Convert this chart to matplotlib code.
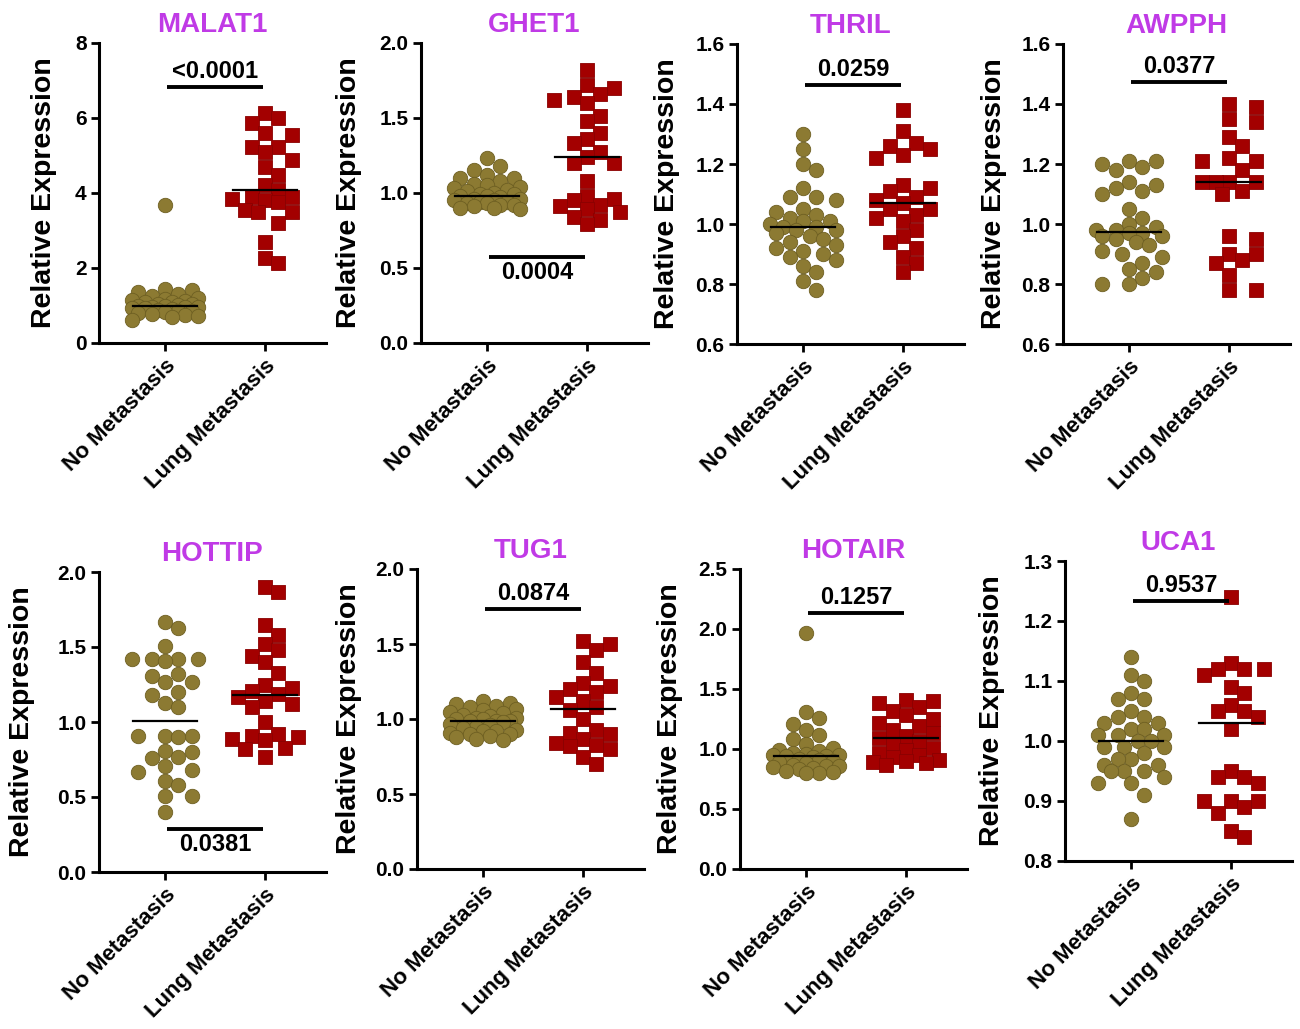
import numpy as np
import matplotlib.pyplot as plt

plt.rcParams['font.family'] = ['Liberation Sans', 'DejaVu Sans']
plt.rcParams['font.weight'] = 'bold'

W, H = 1300, 1029

genes = ['MALAT1', 'GHET1', 'THRIL', 'AWPPH', 'HOTTIP', 'TUG1', 'HOTAIR', 'UCA1']
groups = ['No Metastasis', 'Lung Metastasis']

# values
malat1_no = [3.68, 1.45, 1.40, 1.35, 1.30, 1.25, 1.20, 1.18, 1.15, 1.12, 1.10, 1.08, 1.05, 1.03, 1.00, 0.99, 0.98,
             0.97, 0.96, 0.95, 0.93, 0.92, 0.90, 0.88, 0.86, 0.85, 0.83, 0.80, 0.78, 0.75, 0.72, 0.68, 0.62]
malat1_lung = [6.12, 5.99, 5.86, 5.59, 5.55, 5.23, 5.23, 5.10, 4.88, 4.70, 4.48, 4.21, 4.08, 3.90, 3.90, 3.85, 3.81,
               3.77, 3.54, 3.50, 3.50, 3.19, 2.70, 2.26, 2.13]
ghet1_no = [1.23, 1.18, 1.15, 1.12, 1.10, 1.10, 1.08, 1.06, 1.05, 1.04, 1.03, 1.02, 1.01, 1.00, 0.99, 0.99, 0.98,
            0.98, 0.97, 0.96, 0.96, 0.95, 0.95, 0.94, 0.94, 0.93, 0.93, 0.92, 0.92, 0.91, 0.90, 0.90, 0.89]
ghet1_lung = [1.82, 1.72, 1.70, 1.66, 1.64, 1.62, 1.60, 1.51, 1.48, 1.40, 1.36, 1.33, 1.27, 1.24, 1.20, 1.20, 1.08,
              0.98, 0.96, 0.95, 0.92, 0.91, 0.89, 0.87, 0.84, 0.82, 0.79]
thril_no = [1.30, 1.25, 1.20, 1.18, 1.12, 1.09, 1.09, 1.08, 1.05, 1.04, 1.03, 1.02, 1.01, 1.01, 1.00, 0.99, 0.99,
            0.98, 0.98, 0.97, 0.96, 0.95, 0.94, 0.93, 0.92, 0.91, 0.90, 0.89, 0.88, 0.86, 0.84, 0.81, 0.78]
thril_lung = [1.38, 1.31, 1.27, 1.26, 1.25, 1.23, 1.22, 1.13, 1.12, 1.11, 1.09, 1.08, 1.07, 1.05, 1.05, 1.03, 1.02,
              1.01, 0.98, 0.96, 0.94, 0.92, 0.89, 0.87, 0.84]
awpph_no = [1.21, 1.21, 1.20, 1.19, 1.18, 1.14, 1.13, 1.12, 1.11, 1.10, 1.05, 1.02, 1.00, 0.99, 0.98, 0.98, 0.97,
            0.97, 0.96, 0.96, 0.95, 0.94, 0.93, 0.91, 0.90, 0.89, 0.87, 0.85, 0.84, 0.82, 0.80, 0.80]
awpph_lung = [1.40, 1.39, 1.35, 1.34, 1.29, 1.26, 1.22, 1.21, 1.21, 1.18, 1.14, 1.14, 1.14, 1.14, 1.11, 1.10, 0.96,
              0.95, 0.90, 0.90, 0.88, 0.87, 0.83, 0.78, 0.78]
hottip_no = [1.67, 1.63, 1.51, 1.42, 1.42, 1.42, 1.42, 1.41, 1.32, 1.31, 1.27, 1.27, 1.20, 1.18, 1.13, 1.10, 0.91,
             0.91, 0.91, 0.90, 0.81, 0.80, 0.77, 0.76, 0.71, 0.68, 0.67, 0.61, 0.58, 0.51, 0.51, 0.40]
hottip_lung = [1.90, 1.87, 1.65, 1.58, 1.52, 1.48, 1.44, 1.40, 1.33, 1.25, 1.23, 1.21, 1.19, 1.17, 1.14, 1.12, 1.10,
               1.00, 0.92, 0.91, 0.90, 0.89, 0.88, 0.83, 0.82, 0.77]
tug1_no = [1.12, 1.11, 1.10, 1.09, 1.08, 1.07, 1.06, 1.05, 1.04, 1.03, 1.02, 1.01, 1.01, 1.00, 1.00, 0.99, 0.99,
           0.99, 0.98, 0.97, 0.96, 0.95, 0.94, 0.93, 0.92, 0.92, 0.91, 0.90, 0.90, 0.89, 0.88, 0.87, 0.86]
tug1_lung = [1.52, 1.50, 1.46, 1.38, 1.31, 1.24, 1.22, 1.20, 1.18, 1.15, 1.12, 1.08, 1.06, 1.00, 0.93, 0.91, 0.90,
             0.87, 0.84, 0.83, 0.82, 0.80, 0.75, 0.70]
hotair_no = [1.97, 1.31, 1.26, 1.21, 1.16, 1.12, 1.08, 1.04, 1.01, 0.99, 0.98, 0.97, 0.96, 0.95, 0.95, 0.94, 0.94,
             0.93, 0.92, 0.91, 0.90, 0.89, 0.88, 0.87, 0.86, 0.86, 0.85, 0.84, 0.83, 0.82, 0.81, 0.80, 0.80]
hotair_lung = [1.41, 1.40, 1.38, 1.35, 1.32, 1.28, 1.25, 1.22, 1.19, 1.16, 1.13, 1.11, 1.09, 1.07, 1.04, 1.01, 0.99,
               0.97, 0.95, 0.93, 0.91, 0.90, 0.89, 0.88, 0.87]
uca1_no = [1.14, 1.11, 1.10, 1.08, 1.07, 1.07, 1.05, 1.04, 1.04, 1.03, 1.03, 1.02, 1.02, 1.01, 1.01, 1.01, 1.00,
           1.00, 0.99, 0.99, 0.99, 0.98, 0.97, 0.97, 0.96, 0.96, 0.95, 0.95, 0.95, 0.94, 0.93, 0.93, 0.91, 0.87]
uca1_lung = [1.24, 1.13, 1.12, 1.12, 1.12, 1.11, 1.09, 1.08, 1.06, 1.05, 1.05, 1.04, 1.02, 0.95, 0.94, 0.94, 0.93,
             0.90, 0.90, 0.90, 0.89, 0.88, 0.85, 0.84]

no_met = [malat1_no, ghet1_no, thril_no, awpph_no, hottip_no, tug1_no, hotair_no, uca1_no]
lung_met = [malat1_lung, ghet1_lung, thril_lung, awpph_lung, hottip_lung, tug1_lung, hotair_lung, uca1_lung]

p_values = ['<0.0001', '0.0004', '0.0259', '0.0377', '0.0381', '0.0874', '0.1257', '0.9537']
bar_y = [6.83, 0.573, 1.464, 1.473, 0.287, 1.733, 2.133, 1.233]
text_above = [True, False, True, True, False, True, True, True]
y_min = [0, 0, 0.6, 0.6, 0, 0, 0, 0.8]
y_max = [8, 2.0, 1.6, 1.6, 2.0, 2.0, 2.5, 1.3]
y_step = [2, 0.5, 0.2, 0.2, 0.5, 0.5, 0.5, 0.1]

# axes boxes in pixels: left, top; y-label right edge distance from spine
boxes = [(99, 43), (421, 43), (737, 44), (1063, 44),
         (99, 572), (417, 569), (740, 569), (1065, 561)]
label_off = [42, 59, 57, 56, 64, 55, 57, 60]
AW, AH = 227, 300

olive = '#8C7A32'
red = '#A30000'
title_col = '#C03AE6'


def swarm(vals, ypx, d=14.0, step=13.3, maxoff=34):
    # grid-like swarm (prism style): whole steps first, half steps if crowded
    vals = np.asarray(vals)
    order = np.argsort(-vals, kind='stable')
    full = [0.0]
    half = []
    k = 1
    while k * step / 2 <= maxoff + 0.1:
        off = k * step / 2
        (full if k % 2 == 0 else half).extend([off, -off])
        k += 1
    cands = full + half
    placed = []
    xs = np.zeros(len(vals))
    for i in order:
        y = vals[i] * ypx
        best, bestd = 0.0, -1
        for c in cands:
            md = min((np.hypot(c - px, y - py) for px, py in placed), default=1e9)
            if md >= d:
                best = c
                break
            if md > bestd + 0.5:
                best, bestd = c, md
        placed.append((best, y))
        xs[i] = best
    return xs / 100.0


fig = plt.figure(figsize=(W / 100, H / 100), dpi=100)

for n, gene in enumerate(genes):
    left, top = boxes[n]
    ax = fig.add_axes([left / W, 1 - (top + AH) / H, AW / W, AH / H])
    ypx = AH / (y_max[n] - y_min[n])

    for i, (vals, col, mk) in enumerate([(no_met[n], olive, 'o'), (lung_met[n], red, 's')]):
        xs = swarm(vals, ypx) + i
        ax.scatter(xs, vals, s=108 if mk == 'o' else 98, marker=mk, color=col,
                   edgecolor='#6e5f22' if mk == 'o' else '#8a0000', linewidth=0.6, zorder=2, clip_on=False)
        med = np.median(vals)
        ax.plot([i - 0.32, i + 0.32], [med, med], color='black', lw=1.6, zorder=3)

    by = bar_y[n]
    ax.plot([0.02, 0.98], [by, by], color='black', lw=2.8, solid_capstyle='butt', clip_on=False)
    if text_above[n]:
        ax.annotate(p_values[n], (0.5, by), xytext=(0, 3), textcoords='offset points',
                    ha='center', va='bottom', fontsize=17)
    else:
        ax.annotate(p_values[n], (0.5, by), xytext=(0, -3), textcoords='offset points',
                    ha='center', va='top', fontsize=17)

    ax.set_xlim(-0.66, 1.61)
    ax.set_ylim(y_min[n], y_max[n])
    ticks = np.arange(y_min[n], y_max[n] + y_step[n] / 2, y_step[n])
    ax.set_yticks(ticks)
    if n == 0:
        ax.set_yticklabels([f'{t:.0f}' for t in ticks])
    else:
        ax.set_yticklabels([f'{t:.1f}' for t in ticks])
    ax.set_xticks([0, 1])
    ax.set_xticklabels(groups, rotation=45, ha='right', rotation_mode='anchor', fontsize=16)

    for side in ['top', 'right']:
        ax.spines[side].set_visible(False)
    for side in ['left', 'bottom']:
        ax.spines[side].set_linewidth(2.2)
    ax.tick_params(axis='both', length=6, width=2, labelsize=15, pad=3)
    ax.tick_params(axis='x', labelsize=16, pad=3)

    ax.set_ylabel('Relative Expression', fontsize=20.5, fontweight='bold')
    ax.yaxis.set_label_coords(-label_off[n] / AW, 0.5)
    ax.set_title(gene, color=title_col, fontsize=20, fontweight='bold', pad=8)

fig.savefig('out.png', dpi=100)
